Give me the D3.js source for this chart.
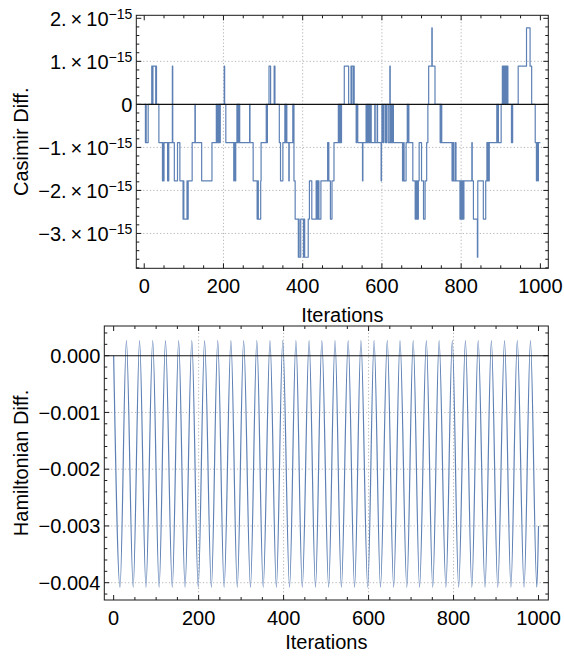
<!DOCTYPE html>
<html>
<head>
<meta charset="utf-8">
<script src="https://cdn.jsdelivr.net/npm/d3@7"></script>
<style>
  body { margin: 0; background: #fff; }
  svg { display: block; }
  text { font-family: "Liberation Sans", Arial, Helvetica, sans-serif; fill: #000; }
</style>
</head>
<body>
<svg id="chart" width="564" height="656"></svg>
<script>
// ---- data ----
const iterTicks = [0, 200, 400, 600, 800, 1000];
const casimirTicks = [2, 1, 0, -1, -2, -3];            // in units of 10^-15
const hamTicks = [0, -0.001, -0.002, -0.003, -0.004];

// Casimir difference (units of 10^-15): [iteration where the level starts, level]
const casimirSteps = [
  [0,0],[3,-0.888],[4,0],[5,-0.888],[10,0],[19,0.888],[21,0],[22,0.888],[29,0],[30,0.888],[31,0],
  [37,-0.888],[46,-1.776],[47,-0.888],[48,-1.776],[50,-0.888],[59,-1.776],[60,-0.888],[61,-1.776],[62,-0.888],
  [71,0.888],[72,-0.888],[76,-1.776],[84,-0.888],[90,-1.776],[98,-2.665],[99,-1.776],[100,-2.665],[108,-1.776],
  [109,-2.665],[111,-1.776],[121,-0.888],[128,0],[129,-0.888],[145,-1.776],[171,-0.888],[182,0],[183,-0.888],
  [185,0],[186,-0.888],[188,0],[189,-0.888],[190,0],[191,-0.888],[192,0],[202,0.888],[203,0],[206,-0.888],
  [226,-1.776],[227,-0.888],[230,-1.776],[231,-0.888],[234,0],[235,-0.888],[236,0],[237,-0.888],[238,0],
  [239,-0.888],[240,0],[241,-0.888],[266,0],[267,-0.888],[275,-1.776],[285,-2.665],[287,-1.776],[288,-2.665],
  [294,-1.776],[295,-0.888],[308,0],[309,-0.888],[311,0],[315,0.888],[319,0],[328,0.888],[330,0],
  [341,-0.888],[344,-1.776],[350,-0.888],[355,0],[356,-0.888],[357,0],[358,-0.888],[359,0],[360,-0.888],
  [365,-1.776],[366,-0.888],[375,0],[376,-0.888],[377,0],[378,-1.776],[381,-2.665],[389,-3.553],[390,-2.665],
  [391,-3.553],[395,-2.665],[402,-3.553],[404,-2.665],[405,-3.553],[414,-2.665],[417,-1.776],[423,-2.665],
  [434,-1.776],[435,-2.665],[436,-1.776],[437,-2.665],[438,-1.776],[439,-2.665],[440,-1.776],[441,-2.665],
  [446,-1.776],[463,-0.888],[464,-1.776],[465,-0.888],[466,-1.776],[470,-2.665],[474,-1.776],[479,-0.888],
  [490,0],[491,-0.888],[492,0],[493,-0.888],[494,0],[495,-0.888],[496,0],[497,-0.888],[498,0],
  [505,0.888],[516,0],[522,0.888],[523,0],[524,0.888],[528,0],[529,0.888],[530,0],[535,-0.888],[536,0],
  [539,-0.888],[551,-1.776],[552,-0.888],[560,0],[561,-0.888],[563,0],[564,-0.888],[566,0],[567,-0.888],
  [569,0],[570,-0.888],[572,0],[573,-0.888],[582,0],[583,-0.888],[588,0],[589,-0.888],[598,-1.776],
  [599,-0.888],[600,0],[603,-0.888],[605,0],[609,-0.888],[612,0],[616,-0.888],[620,0.888],[621,0],
  [622,-0.888],[624,0],[625,-0.888],[627,0],[629,-0.888],[652,-1.776],[655,-0.888],[656,-1.776],[661,-0.888],
  [664,0],[665,-0.888],[667,0],[668,-0.888],[678,-1.776],[684,-2.665],[686,-1.776],[687,-2.665],[689,-1.776],
  [690,-2.665],[692,-1.776],[694,-0.888],[700,-1.776],[705,-2.665],[709,-1.776],[713,-0.888],[716,0],
  [718,0.888],[726,1.776],[727,0.888],[734,0],[747,-0.888],[748,0],[749,-0.888],[750,0],[751,-0.888],
  [777,-1.776],[778,-0.888],[779,-1.776],[780,-0.888],[781,-1.776],[785,-0.888],[787,-1.776],[797,-2.665],
  [798,-1.776],[800,-2.665],[801,-1.776],[803,-2.665],[804,-1.776],[806,-2.665],[807,-1.776],[827,-0.888],
  [828,-1.776],[831,-2.665],[841,-3.553],[842,-1.776],[856,-2.665],[862,-1.776],[865,-0.888],[866,-1.776],
  [867,-0.888],[868,-1.776],[869,-0.888],[870,-1.776],[871,-0.888],[890,0],[891,-0.888],[893,0],[894,-0.888],
  [901,0],[904,0.888],[905,0],[906,0.888],[908,0],[909,0.888],[911,0],[912,0.888],[914,0],[915,0.888],
  [918,0],[927,-0.888],[930,0],[944,0.888],[965,1.776],[974,0.888],[978,0],[987,-0.888],[990,-1.776],
  [991,-0.888],[994,-1.776],[995,-0.888],[1000,-0.888]
];

// Hamiltonian difference: turning points of the oscillation
const hamIter = [0, 15, 30, 46, 61, 76, 92, 107, 122, 138, 153, 168, 184, 199, 214, 230, 245, 260,
  276, 291, 306, 322, 337, 352, 368, 383, 398, 414, 429, 444, 460, 475, 490, 506, 521, 536, 552, 567,
  582, 598, 613, 628, 644, 659, 674, 690, 705, 720, 736, 751, 766, 782, 797, 812, 828, 843, 858, 874,
  889, 904, 920, 935, 950, 966, 981, 996, 1000];
const hamValue = [0,
  -0.00408, 0.000264, -0.00408, 0.000264, -0.00408, 0.000264, -0.00408, 0.000264,
  -0.00408, 0.000264, -0.00408, 0.000264, -0.00408, 0.000264, -0.00408, 0.000264,
  -0.00408, 0.000264, -0.00408, 0.000264, -0.00408, 0.000264, -0.00408, 0.000264,
  -0.00408, 0.000264, -0.00408, 0.000264, -0.00408, 0.000264, -0.00408, 0.000264,
  -0.00408, 0.000264, -0.00408, 0.000264, -0.00408, 0.000264, -0.00408, 0.000264,
  -0.00408, 0.000264, -0.00408, 0.000264, -0.00408, 0.000264, -0.00408, 0.000264,
  -0.00408, 0.000264, -0.00408, 0.000264, -0.00408, 0.000264, -0.00408, 0.000264,
  -0.00408, 0.000264, -0.00408, 0.000264, -0.00408, 0.000264, -0.00408, 0.000264,
  -0.00408, -0.00300];

// ---- styling ----
const lineColor = "#5e81b5";
const frameColor = "#1a1a1a";
const gridColor = "#b4b4b4";
const fontSize = 20;

const svg = d3.select("#chart");

function panel(cfg) {
  const { x, y, box, xMinor, yMinor, xGrid, yGrid, yTickFmt, yLabel, id } = cfg;
  const g = svg.append("g");
  const [x0, x1] = [box.left, box.right];
  const [y0, y1] = [box.top, box.bottom];

  g.append("clipPath").attr("id", id).append("rect")
    .attr("x", x0).attr("y", y0).attr("width", x1 - x0).attr("height", y1 - y0);

  // grid
  g.selectAll(".gx").data(xGrid).join("line")
    .attr("x1", d => x(d)).attr("x2", d => x(d)).attr("y1", y0).attr("y2", y1)
    .attr("stroke", gridColor).attr("stroke-width", 1).attr("stroke-dasharray", "1.2,2.2");
  g.selectAll(".gy").data(yGrid).join("line")
    .attr("x1", x0).attr("x2", x1).attr("y1", d => y(d)).attr("y2", d => y(d))
    .attr("stroke", gridColor).attr("stroke-width", 1).attr("stroke-dasharray", "1.2,2.2");

  // data
  const plot = g.append("g").attr("clip-path", `url(#${id})`);
  cfg.drawData(plot);

  // zero axis
  g.append("line").attr("x1", x0).attr("x2", x1).attr("y1", y(0)).attr("y2", y(0))
    .attr("stroke", "#111").attr("stroke-width", 1.1);

  // frame
  g.append("rect").attr("x", x0).attr("y", y0).attr("width", x1 - x0).attr("height", y1 - y0)
    .attr("fill", "none").attr("stroke", frameColor).attr("stroke-width", 1);

  // ticks on all four sides, pointing inward
  const major = 5, minor = 3;
  const xt = xMinor.map(v => ({ v, len: iterTicks.includes(v) ? major : minor }));
  const yt = yMinor.map(v => ({ v, len: cfg.yMajor.some(m => Math.abs(m - v) < 1e-9) ? major : minor }));
  const tk = g.append("g").attr("stroke", frameColor).attr("stroke-width", 1);
  xt.forEach(t => {
    const px = x(t.v);
    tk.append("line").attr("x1", px).attr("x2", px).attr("y1", y1).attr("y2", y1 - t.len);
    tk.append("line").attr("x1", px).attr("x2", px).attr("y1", y0).attr("y2", y0 + t.len);
  });
  yt.forEach(t => {
    const py = y(t.v);
    tk.append("line").attr("x1", x0).attr("x2", x0 + t.len).attr("y1", py).attr("y2", py);
    tk.append("line").attr("x1", x1).attr("x2", x1 - t.len).attr("y1", py).attr("y2", py);
  });

  // x tick labels
  g.selectAll(".xl").data(iterTicks).join("text")
    .attr("x", d => x(d)).attr("y", y1 + 25)
    .attr("text-anchor", "middle").attr("font-size", fontSize).text(d => d);

  // y tick labels
  cfg.yMajor.forEach(v => {
    const t = g.append("text").attr("x", x0 - 4).attr("y", y(v)).attr("dy", "0.36em")
      .attr("text-anchor", "end").attr("font-size", fontSize);
    yTickFmt(t, v);
  });

  // axis titles
  g.append("text").attr("x", (x0 + x1) / 2).attr("y", y1 + cfg.titleGap)
    .attr("text-anchor", "middle").attr("font-size", fontSize).text("Iterations");
  g.append("text")
    .attr("transform", `translate(${cfg.yLabelX},${(y0 + y1) / 2}) rotate(-90)`)
    .attr("text-anchor", "middle").attr("font-size", fontSize).text(yLabel);
}

// ---- Casimir panel ----
const box1 = { left: 136.3, right: 548.3, top: 15.3, bottom: 268.3 };
const x1s = d3.scaleLinear().domain([-20, 1020]).range([box1.left, box1.right]);
const y1s = d3.scaleLinear().domain([-3.81, 2.07]).range([box1.bottom, box1.top]);

panel({
  id: "clipA", x: x1s, y: y1s, box: box1, titleGap: 54,
  xMinor: d3.range(0, 1001, 50),
  yMinor: d3.range(-3.8, 2.01, 0.2).map(v => +v.toFixed(1)),
  yMajor: casimirTicks,
  xGrid: [200, 400, 600, 800],
  yGrid: [1, -1, -2, -3],
  yLabel: "Casimir Diff.", yLabelX: 28,
  yTickFmt: (t, v) => {
    if (v === 0) { t.text("0"); return; }
    t.append("tspan").text((v < 0 ? "\u2212" : "") + Math.abs(v) + ".\u2009\u00d7\u200910");
    t.append("tspan").attr("dy", "-0.45em").attr("font-size", 14).text("\u221215");
  },
  drawData: g => {
    g.append("path").datum(casimirSteps)
      .attr("fill", "none").attr("stroke", lineColor).attr("stroke-width", 1.2)
      .attr("stroke-linejoin", "round")
      .attr("d", d3.line().x(d => x1s(d[0])).y(d => y1s(d[1])).curve(d3.curveStepAfter));
  }
});

// ---- Hamiltonian panel ----
const box2 = { left: 104.3, right: 548.3, top: 326, bottom: 600 };
const x2s = d3.scaleLinear().domain([-22, 1023]).range([box2.left, box2.right]);
const y2s = d3.scaleLinear().domain([-0.004305, 0.000523]).range([box2.bottom, box2.top]);

panel({
  id: "clipB", x: x2s, y: y2s, box: box2, titleGap: 49,
  xMinor: d3.range(0, 1001, 50),
  yMinor: d3.range(-4.2, 0.41, 0.2).map(v => +(v / 1000).toFixed(4)),
  yMajor: hamTicks,
  xGrid: [200, 400, 600, 800],
  yGrid: [-0.001, -0.002, -0.003, -0.004],
  yLabel: "Hamiltonian Diff.", yLabelX: 28,
  yTickFmt: (t, v) => t.text(v === 0 ? "0.000" : "\u2212" + Math.abs(v).toFixed(3)),
  drawData: g => {
    const pts = hamIter.map((it, i) => [it, hamValue[i]]);
    g.append("path").datum(pts)
      .attr("fill", "none").attr("stroke", lineColor).attr("stroke-width", 1.2)
      .attr("d", d3.line().x(d => x2s(d[0])).y(d => y2s(d[1])).curve(d3.curveMonotoneX));
  }
});
</script>
</body>
</html>
